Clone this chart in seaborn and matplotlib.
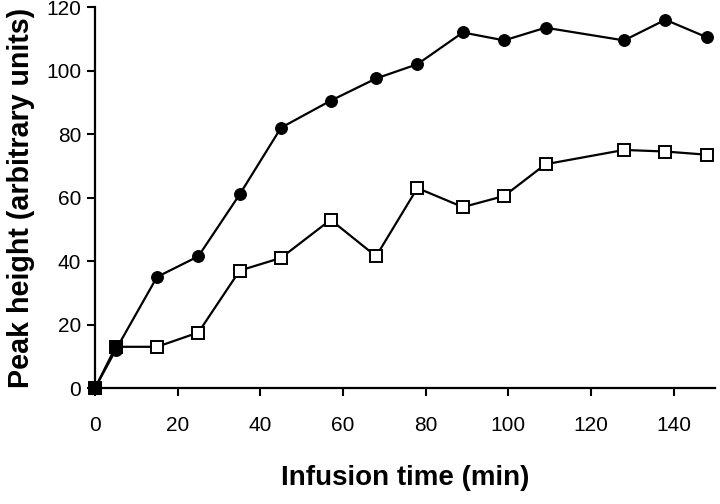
import matplotlib
matplotlib.use("Agg")
import matplotlib.pyplot as plt
import seaborn as sns
import pandas as pd

time_filled = [0, 5, 15, 25, 35, 45, 57, 68, 78, 89, 99, 109, 128, 138, 148]
height_filled = [0, 12, 35, 41.5, 61, 82, 90.5, 97.5, 102, 112, 109.5, 113.5, 109.5, 116, 110.5]

time_open = [0, 5, 15, 25, 35, 45, 57, 68, 78, 89, 99, 109, 128, 138, 148]
height_open = [0, 13, 13, 17.5, 37, 41, 53, 41.5, 63, 57, 60.5, 70.5, 75, 74.5, 73.5]

x_ticks = [0, 20, 40, 60, 80, 100, 120, 140]
y_ticks = [0, 20, 40, 60, 80, 100, 120]

sns.set_style("ticks")
plt.rcParams['font.family'] = ['Liberation Sans', 'DejaVu Sans']
plt.rcParams['text.color'] = 'black'
plt.rcParams['axes.labelcolor'] = 'black'
plt.rcParams['xtick.color'] = 'black'
plt.rcParams['ytick.color'] = 'black'
plt.rcParams['axes.edgecolor'] = 'black'

fig = plt.figure(figsize=(7.2, 5.04), dpi=100)
ax = fig.add_axes([0.132, 0.230, 0.861, 0.756])

df_open = pd.DataFrame({"t": time_open, "h": height_open})
df_filled = pd.DataFrame({"t": time_filled, "h": height_filled})

sns.lineplot(data=df_open, x="t", y="h", ax=ax, color="black", lw=1.6,
             marker="s", markersize=9, markerfacecolor="white",
             markeredgecolor="black", markeredgewidth=1.4, zorder=3, clip_on=False)
sns.lineplot(data=df_filled, x="t", y="h", ax=ax, color="black", lw=1.6,
             marker="o", markersize=8.5, markerfacecolor="black",
             markeredgecolor="black", zorder=4, clip_on=False)
# where both series coincide at the start, the overlapping markers render solid
sns.lineplot(data=df_open.iloc[:2], x="t", y="h", ax=ax, color="black", lw=0,
             marker="s", markersize=9, markerfacecolor="black",
             markeredgecolor="black", zorder=5, clip_on=False)

ax.set_xlim(0, 150)
ax.set_ylim(0, 120)
ax.set_xticks(x_ticks)
ax.set_yticks(y_ticks)
ax.tick_params(axis="both", labelsize=15, width=1.5, length=6, color="black", labelcolor="black")
ax.tick_params(axis="x", pad=14)
ax.tick_params(axis="y", pad=4)
for s in ["top", "right"]:
    ax.spines[s].set_visible(False)
for s in ["left", "bottom"]:
    ax.spines[s].set_linewidth(1.6)
    ax.spines[s].set_color("black")

ax.set_xlabel("Infusion time (min)", fontsize=20, fontweight="bold", labelpad=22, color="black")
ax.set_ylabel("Peak height (arbitrary units)", fontsize=20.6, fontweight="bold", labelpad=8, color="black")

fig.savefig("out.png", dpi=100)
